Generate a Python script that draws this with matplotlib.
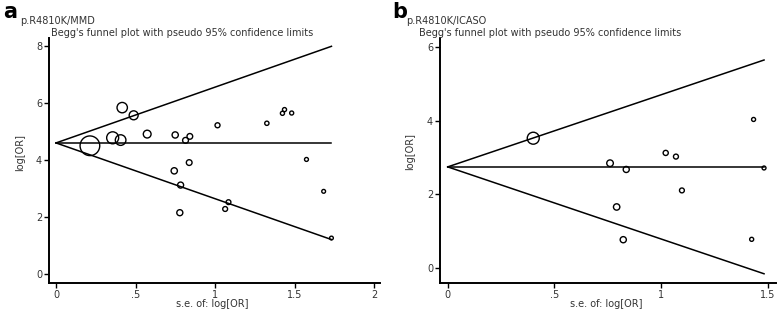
import numpy as np
import matplotlib
matplotlib.use("Agg")
import matplotlib.pyplot as plt

plt.rcParams["font.family"] = ["Liberation Sans Narrow", "DejaVu Sans"]

# panel a: p.R4810K/MMD
se_a = [0.213, 0.416, 0.488, 0.356, 0.406, 0.573, 0.749, 0.814, 0.841, 1.015,
        1.325, 1.423, 1.436, 1.481, 1.574, 1.682, 1.731, 0.743, 0.837, 0.783,
        0.778, 1.084, 1.063]
logor_a = [4.50, 5.84, 5.57, 4.78, 4.70, 4.91, 4.88, 4.69, 4.83, 5.22,
           5.29, 5.64, 5.77, 5.65, 4.02, 2.90, 1.26, 3.62, 3.91, 3.12,
           2.15, 2.52, 2.28]
theta_a = 4.60

# panel b: p.R4810K/ICASO
se_b = [0.401, 1.434, 1.022, 1.070, 0.761, 0.837, 1.483, 1.098, 0.792, 0.823, 1.425]
logor_b = [3.52, 4.03, 3.12, 3.02, 2.84, 2.67, 2.71, 2.10, 1.65, 0.76, 0.77]
theta_b = 2.74

yticks_a = [0, 2, 4, 6, 8]
xticks_a = [0, 0.5, 1, 1.5, 2]
xticklabels_a = ["0", ".5", "1", "1.5", "2"]
yticks_b = [0, 2, 4, 6]
xticks_b = [0, 0.5, 1, 1.5]
xticklabels_b = ["0", ".5", "1", "1.5"]

TITLE = "Begg's funnel plot with pseudo 95% confidence limits"


def funnel(ax, se, logor, theta, k, smin):
    se = np.asarray(se)
    smax = se.max()
    s_line = np.array([0, smax])
    ax.plot(s_line, theta + 1.96 * s_line, color="black", lw=1.1)
    ax.plot(s_line, theta - 1.96 * s_line, color="black", lw=1.1)
    ax.plot(s_line, [theta, theta], color="black", lw=1.1)
    # marker area grows with the weight 1/se^2
    ax.scatter(se, logor, s=k / se ** 2 + smin, facecolors="none",
               edgecolors="black", linewidths=1.0, zorder=3)
    for side in ["top", "right"]:
        ax.spines[side].set_visible(False)
    for side in ["left", "bottom"]:
        ax.spines[side].set_linewidth(1.4)
    ax.tick_params(direction="out", length=3.5, width=1.0, labelsize=7,
                   labelcolor="#333333", pad=1.5)
    ax.set_xlabel("s.e. of: log[OR]", fontsize=7, color="#333333")
    ax.set_ylabel("log[OR]", fontsize=7, color="#333333")
    ax.xaxis.set_label_coords(0.495, -0.086)
    ax.xaxis.label.set_va("center")
    ax.yaxis.set_label_coords(-0.088, 0.535)
    ax.yaxis.label.set_va("center")


fig = plt.figure(figsize=(7.78, 3.10), dpi=100)

ax_a = fig.add_axes([0.063, 0.087, 0.425, 0.79])
funnel(ax_a, se_a, logor_a, theta_a, 8.9, 4.3)
ax_a.set_xlim(-0.044, 2.034)
ax_a.set_ylim(-0.32, 8.28)
ax_a.set_xticks(xticks_a)
ax_a.set_xticklabels(xticklabels_a)
ax_a.set_yticks(yticks_a)

ax_b = fig.add_axes([0.5656, 0.088, 0.4318, 0.79])
funnel(ax_b, se_b, logor_b, theta_b, 11.5, 2.7)
ax_b.set_xlim(-0.036, 1.539)
ax_b.set_ylim(-0.41, 6.25)
ax_b.set_xticks(xticks_b)
ax_b.set_xticklabels(xticklabels_b)
ax_b.set_yticks(yticks_b)

fig.text(3 / 778, 1 - 12 / 310, "a", fontsize=15, fontweight="bold",
         family="DejaVu Sans", va="center", ha="left")
fig.text(20 / 778, 1 - 21 / 310, "p.R4810K/MMD", fontsize=7, color="#333333",
         va="center", ha="left")
fig.text(51 / 778, 1 - 33 / 310, TITLE, fontsize=7, color="#333333",
         va="center", ha="left")

fig.text(392 / 778, 1 - 12 / 310, "b", fontsize=15, fontweight="bold",
         family="DejaVu Sans", va="center", ha="left")
fig.text(406 / 778, 1 - 21 / 310, "p.R4810K/ICASO", fontsize=7, color="#333333",
         va="center", ha="left")
fig.text(419 / 778, 1 - 33 / 310, TITLE, fontsize=7, color="#333333",
         va="center", ha="left")

fig.savefig("out.png", dpi=100)
